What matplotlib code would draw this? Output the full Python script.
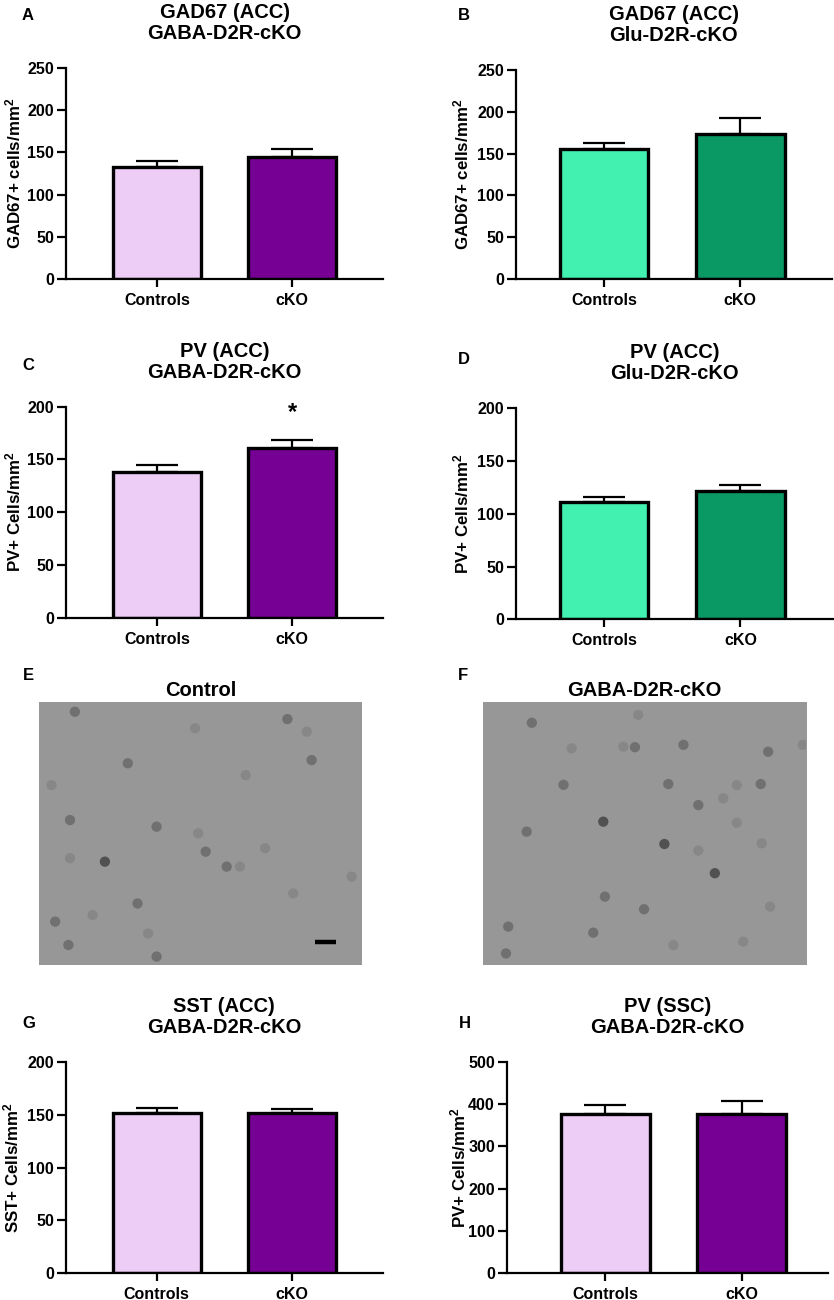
import numpy as np
import matplotlib
matplotlib.use("Agg")
import matplotlib.pyplot as plt

plt.rcParams['font.family'] = ['Liberation Sans', 'DejaVu Sans']
plt.rcParams['font.weight'] = 'bold'
plt.rcParams['mathtext.fontset'] = 'custom'
plt.rcParams['mathtext.rm'] = 'Liberation Sans:bold'
plt.rcParams['mathtext.bf'] = 'Liberation Sans:bold'
plt.rcParams['mathtext.it'] = 'Liberation Sans:bold'

W, H = 834, 1300

groups = ["Controls", "cKO"]

# means and upper SEM
gad67_gaba = [133, 144]
gad67_gaba_sem = [7, 9.7]
gad67_glu = [155.5, 174]
gad67_glu_sem = [7.5, 18]
pv_gaba = [138, 161]
pv_gaba_sem = [6.6, 7]
pv_glu = [111.5, 121.3]
pv_glu_sem = [4.7, 6.3]
sst_gaba = [151.8, 151.2]
sst_gaba_sem = [4.4, 3.8]
pv_ssc = [376.4, 375.7]
pv_ssc_sem = [21.3, 32.2]

purple = ["#EDCCF6", "#760094"]
green = ["#42F0B0", "#0A9864"]

# stained cells in the micrographs: (x, y) as fraction of image, shade level
cells_control = [
    (0.111, 0.037, 1), (0.769, 0.065, 1), (0.844, 0.221, 1), (0.483, 0.100, 0),
    (0.829, 0.113, 0), (0.275, 0.233, 1), (0.640, 0.278, 0), (0.039, 0.316, 0),
    (0.096, 0.449, 1), (0.364, 0.474, 1), (0.493, 0.499, 0), (0.516, 0.569, 1),
    (0.204, 0.607, 2), (0.096, 0.594, 0), (0.581, 0.626, 1), (0.622, 0.626, 0),
    (0.700, 0.556, 0), (0.968, 0.664, 0), (0.787, 0.728, 0), (0.305, 0.766, 1),
    (0.166, 0.810, 0), (0.050, 0.835, 1), (0.338, 0.880, 0), (0.091, 0.924, 1),
    (0.364, 0.968, 1),
]
cells_cko = [
    (0.152, 0.079, 1), (0.275, 0.176, 0), (0.435, 0.170, 0), (0.471, 0.172, 1),
    (0.481, 0.049, 0), (0.621, 0.163, 1), (0.883, 0.189, 1), (0.990, 0.163, 0),
    (0.250, 0.315, 1), (0.574, 0.312, 1), (0.786, 0.316, 0), (0.860, 0.312, 1),
    (0.744, 0.366, 0), (0.667, 0.392, 1), (0.373, 0.455, 2), (0.136, 0.493, 1),
    (0.786, 0.459, 0), (0.562, 0.540, 2), (0.667, 0.565, 0), (0.863, 0.537, 0),
    (0.718, 0.651, 2), (0.378, 0.740, 1), (0.499, 0.788, 1), (0.342, 0.877, 1),
    (0.079, 0.854, 1), (0.072, 0.956, 1), (0.806, 0.911, 0), (0.889, 0.778, 0),
    (0.590, 0.924, 0),
]
cell_shades = ["#868686", "#6c6c6c", "#4a4a4a"]

fig = plt.figure(figsize=(W / 100, H / 100), dpi=100)


def px_axes(left, top, right, bottom):
    return fig.add_axes([left / W, 1 - bottom / H, (right - left) / W, (bottom - top) / H])


def fig_text(x, y, s, **kw):
    fig.text(x / W, 1 - y / H, s, **kw)


def bar_panel(box, xlim, means, sems, colors, ymax, ystep, ylabel, title,
              letter, letter_xy, ylabel_x, star=False):
    left, top, right, bottom = box
    ax = px_axes(left, top, right, bottom)
    x = np.arange(len(groups))
    ax.bar(x, means, width=0.65, color=colors, edgecolor="black", linewidth=2.4, zorder=2)
    ax.errorbar(x, means, yerr=[[0] * len(sems), sems], fmt="none", ecolor="black",
                elinewidth=1.6, capsize=15, capthick=1.6, zorder=3)
    ax.set_xlim(*xlim)
    ax.set_ylim(0, ymax)
    ax.set_yticks(np.arange(0, ymax + 1, ystep))
    ax.set_xticks(x)
    ax.set_xticklabels(groups)
    for s in ["top", "right"]:
        ax.spines[s].set_visible(False)
    for s in ["left", "bottom"]:
        ax.spines[s].set_linewidth(1.6)
    ax.tick_params(axis="y", length=6.5, width=1.6, pad=2, labelsize=11.5)
    ax.tick_params(axis="x", length=6, width=1.6, pad=4, labelsize=11.5)
    if star:
        ax.text(1, 188, "*", ha="center", va="baseline", fontsize=17, clip_on=False)
    cx = (left + right) / 2
    fig_text(cx, top - 45, title, ha="center", va="center", fontsize=14.5, linespacing=1.12)
    fig_text(letter_xy[0], letter_xy[1], letter, ha="center", va="center", fontsize=12)
    fig_text(ylabel_x, (top + bottom) / 2, ylabel, ha="center", va="center",
             rotation=90, fontsize=12.2)
    return ax


def image_panel(box, cells, title, letter, letter_xy, scale_bar=False):
    left, top, right, bottom = box
    ax = px_axes(left, top, right, bottom)
    ax.imshow(np.full((263, 323), 0.59), cmap="gray", vmin=0, vmax=1,
              extent=[0, 1, 1, 0], aspect="auto", interpolation="nearest")
    xs = [c[0] for c in cells]
    ys = [c[1] for c in cells]
    cs = [cell_shades[c[2]] for c in cells]
    ax.scatter(xs, ys, s=55, c=cs, edgecolors="none", alpha=0.9, zorder=2)
    if scale_bar:
        ax.plot([0.854, 0.920], [0.914, 0.914], color="black", lw=3.2, solid_capstyle="butt")
    ax.set_xlim(0, 1)
    ax.set_ylim(1, 0)
    ax.axis("off")
    fig_text((left + right) / 2, top - 12, title, ha="center", va="center", fontsize=14.5)
    fig_text(letter_xy[0], letter_xy[1], letter, ha="center", va="center", fontsize=12)


bar_panel((66, 68, 383, 279), (-0.674, 1.674), gad67_gaba, gad67_gaba_sem, purple, 250, 50,
          r"GAD67+ cells/mm$^{2}$", "GAD67 (ACC)\nGABA-D2R-cKO", "A", (28, 16), 13)
bar_panel((515.7, 70, 832, 279), (-0.65, 1.674), gad67_glu, gad67_glu_sem, green, 250, 50,
          r"GAD67+ cells/mm$^{2}$", "GAD67 (ACC)\nGlu-D2R-cKO", "B", (464, 16), 461)
bar_panel((66, 406.7, 383, 617.7), (-0.674, 1.674), pv_gaba, pv_gaba_sem, purple, 200, 50,
          r"PV+ Cells/mm$^{2}$", "PV (ACC)\nGABA-D2R-cKO", "C", (28, 366), 13, star=True)
bar_panel((515.7, 408.3, 833, 619.3), (-0.65, 1.68), pv_glu, pv_glu_sem, green, 200, 50,
          r"PV+ Cells/mm$^{2}$", "PV (ACC)\nGlu-D2R-cKO", "D", (464, 359), 461)

image_panel((39, 702, 362, 965), cells_control, "Control", "E", (28, 676), scale_bar=True)
image_panel((482.7, 702, 806, 965), cells_cko, "GABA-D2R-cKO", "F", (463, 676))

bar_panel((65.7, 1061.7, 383, 1273.3), (-0.674, 1.674), sst_gaba, sst_gaba_sem, purple, 200, 50,
          r"SST+ Cells/mm$^{2}$", "SST (ACC)\nGABA-D2R-cKO", "G", (29, 1023), 11)
bar_panel((506.7, 1061.7, 828, 1273.3), (-0.72, 1.63), pv_ssc, pv_ssc_sem, purple, 500, 100,
          r"PV+ Cells/mm$^{2}$", "PV (SSC)\nGABA-D2R-cKO", "H", (465, 1023), 458)

fig.savefig("out.png", dpi=100)
